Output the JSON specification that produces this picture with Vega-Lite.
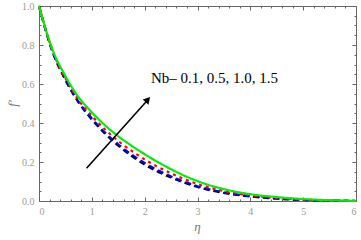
{
  "$schema": "https://vega.github.io/schema/vega-lite/v6.json",
  "width": 317,
  "height": 195,
  "autosize": "none",
  "padding": {"left": 39, "top": 6, "right": 5, "bottom": 39},
  "background": "white",
  "config": {
    "view": {"stroke": null},
    "axis": {
      "grid": false,
      "domainColor": "#666666",
      "tickColor": "#666666",
      "domainWidth": 1,
      "tickWidth": 1,
      "labelFont": "Liberation Serif",
      "labelFontSize": 10,
      "labelColor": "#a09a94",
      "titleFont": "Liberation Serif",
      "titleFontWeight": "normal"
    }
  },
  "datasets": {
    "curves": [
      {"eta": 0, "f": 1.0, "s": "0.1"}, {"eta": 0.25, "f": 0.77, "s": "0.1"}, {"eta": 0.5, "f": 0.62, "s": "0.1"}, {"eta": 0.75, "f": 0.505, "s": "0.1"}, {"eta": 1, "f": 0.418, "s": "0.1"}, {"eta": 1.25, "f": 0.345, "s": "0.1"}, {"eta": 1.5, "f": 0.284, "s": "0.1"}, {"eta": 1.75, "f": 0.231, "s": "0.1"}, {"eta": 2, "f": 0.187, "s": "0.1"}, {"eta": 2.25, "f": 0.15, "s": "0.1"}, {"eta": 2.5, "f": 0.12, "s": "0.1"}, {"eta": 2.75, "f": 0.094, "s": "0.1"}, {"eta": 3, "f": 0.072, "s": "0.1"}, {"eta": 3.5, "f": 0.041, "s": "0.1"}, {"eta": 4, "f": 0.023, "s": "0.1"}, {"eta": 4.5, "f": 0.012, "s": "0.1"}, {"eta": 5, "f": 0.005, "s": "0.1"}, {"eta": 5.5, "f": 0.002, "s": "0.1"}, {"eta": 6, "f": 0, "s": "0.1"},
      {"eta": 0, "f": 1.0, "s": "0.5"}, {"eta": 0.25, "f": 0.772, "s": "0.5"}, {"eta": 0.5, "f": 0.623, "s": "0.5"}, {"eta": 0.75, "f": 0.509, "s": "0.5"}, {"eta": 1, "f": 0.423, "s": "0.5"}, {"eta": 1.25, "f": 0.351, "s": "0.5"}, {"eta": 1.5, "f": 0.291, "s": "0.5"}, {"eta": 1.75, "f": 0.239, "s": "0.5"}, {"eta": 2, "f": 0.195, "s": "0.5"}, {"eta": 2.25, "f": 0.158, "s": "0.5"}, {"eta": 2.5, "f": 0.126, "s": "0.5"}, {"eta": 2.75, "f": 0.099, "s": "0.5"}, {"eta": 3, "f": 0.076, "s": "0.5"}, {"eta": 3.5, "f": 0.044, "s": "0.5"}, {"eta": 4, "f": 0.025, "s": "0.5"}, {"eta": 4.5, "f": 0.013, "s": "0.5"}, {"eta": 5, "f": 0.006, "s": "0.5"}, {"eta": 5.5, "f": 0.0023, "s": "0.5"}, {"eta": 6, "f": 0, "s": "0.5"},
      {"eta": 0, "f": 1.0, "s": "1.0"}, {"eta": 0.25, "f": 0.775, "s": "1.0"}, {"eta": 0.5, "f": 0.63, "s": "1.0"}, {"eta": 0.75, "f": 0.518, "s": "1.0"}, {"eta": 1, "f": 0.436, "s": "1.0"}, {"eta": 1.25, "f": 0.367, "s": "1.0"}, {"eta": 1.5, "f": 0.308, "s": "1.0"}, {"eta": 1.75, "f": 0.258, "s": "1.0"}, {"eta": 2, "f": 0.213, "s": "1.0"}, {"eta": 2.25, "f": 0.175, "s": "1.0"}, {"eta": 2.5, "f": 0.142, "s": "1.0"}, {"eta": 2.75, "f": 0.112, "s": "1.0"}, {"eta": 3, "f": 0.087, "s": "1.0"}, {"eta": 3.5, "f": 0.051, "s": "1.0"}, {"eta": 4, "f": 0.029, "s": "1.0"}, {"eta": 4.5, "f": 0.016, "s": "1.0"}, {"eta": 5, "f": 0.0075, "s": "1.0"}, {"eta": 5.5, "f": 0.003, "s": "1.0"}, {"eta": 6, "f": 0, "s": "1.0"},
      {"eta": 0, "f": 1.0, "s": "1.5"}, {"eta": 0.25, "f": 0.78, "s": "1.5"}, {"eta": 0.5, "f": 0.64, "s": "1.5"}, {"eta": 0.75, "f": 0.532, "s": "1.5"}, {"eta": 1, "f": 0.455, "s": "1.5"}, {"eta": 1.25, "f": 0.388, "s": "1.5"}, {"eta": 1.5, "f": 0.332, "s": "1.5"}, {"eta": 1.75, "f": 0.284, "s": "1.5"}, {"eta": 2, "f": 0.24, "s": "1.5"}, {"eta": 2.25, "f": 0.2, "s": "1.5"}, {"eta": 2.5, "f": 0.163, "s": "1.5"}, {"eta": 2.75, "f": 0.13, "s": "1.5"}, {"eta": 3, "f": 0.102, "s": "1.5"}, {"eta": 3.5, "f": 0.061, "s": "1.5"}, {"eta": 4, "f": 0.035, "s": "1.5"}, {"eta": 4.5, "f": 0.02, "s": "1.5"}, {"eta": 5, "f": 0.01, "s": "1.5"}, {"eta": 5.5, "f": 0.004, "s": "1.5"}, {"eta": 6, "f": 0, "s": "1.5"}
    ],
    "anchor": [{"eta": 0, "f": 0}],
    "arrow": [{"eta": 0.9, "f": 0.168}, {"eta": 2.07, "f": 0.522}],
    "head": [{"eta": 2.06, "f": 0.52}],
    "label": [{"eta": 2.12, "f": 0.607, "t": "Nb– 0.1, 0.5, 1.0, 1.5"}]
  },
  "layer": [
    {
      "data": {"name": "curves"},
      "mark": {"type": "line", "strokeWidth": 2.2, "interpolate": "monotone"},
      "encoding": {
        "x": {"field": "eta", "type": "quantitative", "scale": {"domain": [0, 6], "nice": false},
          "axis": {"orient": "bottom", "values": [0, 1, 2, 3, 4, 5, 6], "ticks": false, "labelPadding": 5, "title": "η", "titleFontSize": 13, "titleFontStyle": "italic", "titleColor": "#777777", "titleX": 158, "titleY": 29, "titleBaseline": "alphabetic"}},
        "y": {"field": "f", "type": "quantitative", "scale": {"domain": [0, 1], "nice": false},
          "axis": {"orient": "left", "values": [0, 0.2, 0.4, 0.6, 0.8, 1.0], "format": ".1f", "ticks": false, "labelPadding": 5, "title": "f′", "titleFontSize": 13, "titleFontStyle": "italic", "titleColor": "#777777", "titleX": -27, "titleY": 97, "titleAngle": -90, "titleBaseline": "middle"}},
        "color": {"field": "s", "type": "nominal", "scale": {"domain": ["0.1", "0.5", "1.0", "1.5"], "range": ["#000000", "#0000ff", "#ff0000", "#00ee00"]}, "legend": null},
        "strokeDash": {"field": "s", "type": "nominal", "scale": {"domain": ["0.1", "0.5", "1.0", "1.5"], "range": [[6, 4], [6, 4], [3, 4], [1, 0]]}, "legend": null}
      }
    },
    {
      "data": {"name": "anchor"},
      "mark": {"type": "point", "opacity": 0},
      "encoding": {
        "x": {"field": "eta", "type": "quantitative", "scale": {"domain": [0, 6], "nice": false},
          "axis": {"orient": "bottom", "values": [0, 1, 2, 3, 4, 5, 6], "labels": false, "domain": false, "tickSize": -4, "title": null}},
        "y": {"field": "f", "type": "quantitative", "scale": {"domain": [0, 1], "nice": false},
          "axis": {"orient": "left", "values": [0, 0.2, 0.4, 0.6, 0.8, 1.0], "labels": false, "domain": false, "tickSize": -4, "title": null}}
      }
    },
    {
      "data": {"name": "anchor"},
      "mark": {"type": "point", "opacity": 0},
      "encoding": {
        "x": {"field": "eta", "type": "quantitative", "scale": {"domain": [0, 6], "nice": false},
          "axis": {"orient": "bottom", "values": [0.2, 0.4, 0.6, 0.8, 1.2, 1.4, 1.6, 1.8, 2.2, 2.4, 2.6, 2.8, 3.2, 3.4, 3.6, 3.8, 4.2, 4.4, 4.6, 4.8, 5.2, 5.4, 5.6, 5.8], "labels": false, "domain": false, "tickSize": -2, "title": null}},
        "y": {"field": "f", "type": "quantitative", "scale": {"domain": [0, 1], "nice": false},
          "axis": {"orient": "left", "values": [0.05, 0.1, 0.15, 0.25, 0.3, 0.35, 0.45, 0.5, 0.55, 0.65, 0.7, 0.75, 0.85, 0.9, 0.95], "labels": false, "domain": false, "tickSize": -2, "title": null}}
      }
    },
    {
      "data": {"name": "anchor"},
      "mark": {"type": "point", "opacity": 0},
      "encoding": {
        "x": {"field": "eta", "type": "quantitative", "scale": {"domain": [0, 6], "nice": false},
          "axis": {"orient": "top", "values": [0, 1, 2, 3, 4, 5, 6], "labels": false, "tickSize": -4, "title": null}},
        "y": {"field": "f", "type": "quantitative", "scale": {"domain": [0, 1], "nice": false},
          "axis": {"orient": "right", "values": [0, 0.2, 0.4, 0.6, 0.8, 1.0], "labels": false, "tickSize": -4, "title": null}}
      }
    },
    {
      "data": {"name": "anchor"},
      "mark": {"type": "point", "opacity": 0},
      "encoding": {
        "x": {"field": "eta", "type": "quantitative", "scale": {"domain": [0, 6], "nice": false},
          "axis": {"orient": "top", "values": [0.2, 0.4, 0.6, 0.8, 1.2, 1.4, 1.6, 1.8, 2.2, 2.4, 2.6, 2.8, 3.2, 3.4, 3.6, 3.8, 4.2, 4.4, 4.6, 4.8, 5.2, 5.4, 5.6, 5.8], "labels": false, "domain": false, "tickSize": -2, "title": null}},
        "y": {"field": "f", "type": "quantitative", "scale": {"domain": [0, 1], "nice": false},
          "axis": {"orient": "right", "values": [0.05, 0.1, 0.15, 0.25, 0.3, 0.35, 0.45, 0.5, 0.55, 0.65, 0.7, 0.75, 0.85, 0.9, 0.95], "labels": false, "domain": false, "tickSize": -2, "title": null}}
      }
    },
    {
      "data": {"name": "arrow"},
      "mark": {"type": "line", "color": "black", "strokeWidth": 1.6},
      "encoding": {
        "x": {"field": "eta", "type": "quantitative", "axis": null},
        "y": {"field": "f", "type": "quantitative", "axis": null}
      }
    },
    {
      "data": {"name": "head"},
      "mark": {"type": "point", "shape": "triangle-up", "filled": true, "color": "black", "opacity": 1, "size": 60, "angle": 42},
      "encoding": {
        "x": {"field": "eta", "type": "quantitative", "axis": null},
        "y": {"field": "f", "type": "quantitative", "axis": null}
      }
    },
    {
      "data": {"name": "label"},
      "mark": {"type": "text", "align": "left", "baseline": "alphabetic", "font": "Liberation Serif", "fontSize": 15, "color": "black"},
      "encoding": {
        "x": {"field": "eta", "type": "quantitative", "axis": null},
        "y": {"field": "f", "type": "quantitative", "axis": null},
        "text": {"field": "t"}
      }
    }
  ],
  "resolve": {"axis": {"x": "independent", "y": "independent"}}
}
